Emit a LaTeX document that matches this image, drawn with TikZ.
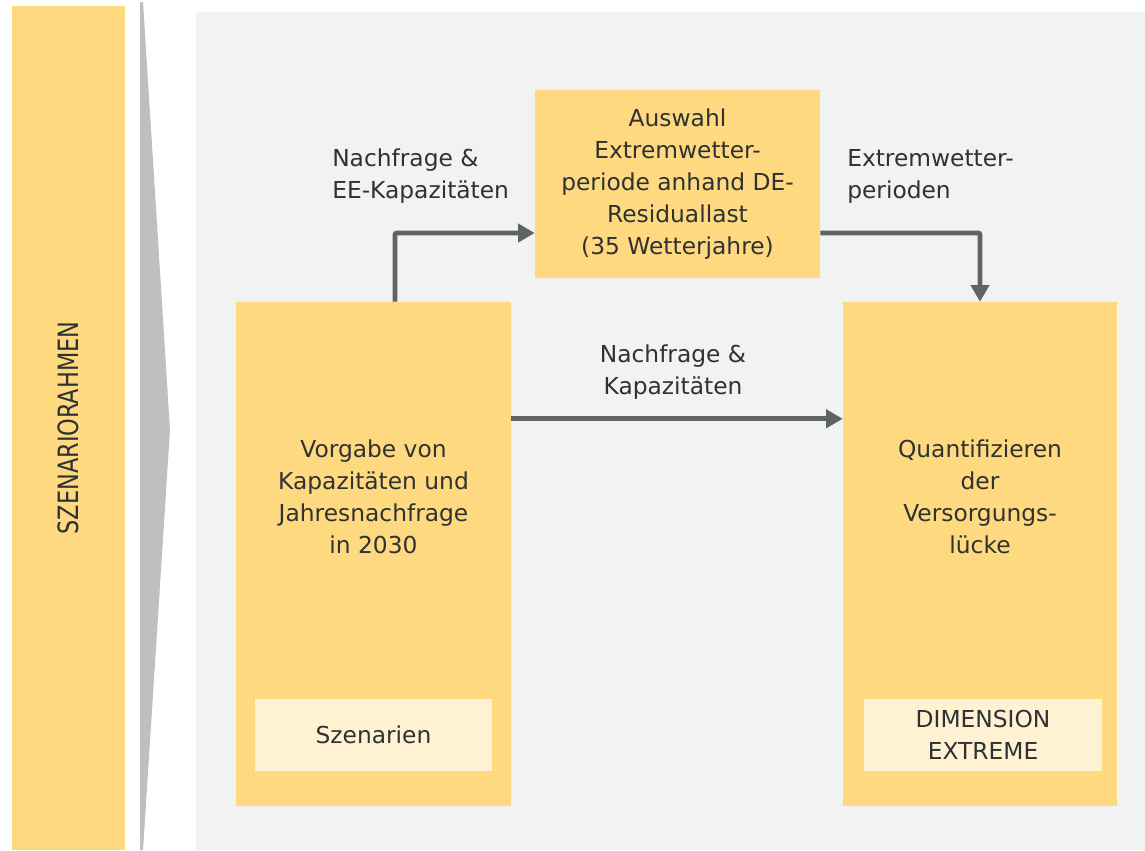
\documentclass[tikz,border=0pt]{standalone}
\usepackage{fontspec}
\setmainfont{DejaVu Sans}
\usepackage{graphicx}
\usetikzlibrary{arrows.meta,calc}
\definecolor{gelb}{HTML}{FFD97F}
\definecolor{hellgelb}{HTML}{FFF2D3}
\definecolor{hgrau}{HTML}{F2F2F2}
\definecolor{keilgrau}{HTML}{BFBFBF}
\definecolor{pfeilgrau}{HTML}{5E6364}
\definecolor{schrift}{HTML}{2E3233}

\begin{document}
\begin{tikzpicture}
    \tikzset{x={(0.75pt,0pt)}, y={(0pt,-0.75pt)}}
    \tikzset{box/.style={fill=gelb, inner sep=0pt, text=schrift, align=center,
                         font=\fontsize{17.5}{24}\selectfont},
             innerbox/.style={box, fill=hellgelb, minimum height=54pt},
             txt/.style={inner sep=0pt, text=schrift, font=\fontsize{17.5}{24}\selectfont},
             flow/.style={draw=pfeilgrau, line width=3.7pt, rounded corners=1.5pt,
                          -{Triangle[length=12.5pt,width=13.5pt]}}}
    \useasboundingbox (0,0) rectangle (1145,850);
    % background and chevron
    \fill[hgrau] (196,12) rectangle (1145,850);
    \fill[keilgrau] (140,2) -- (143,2) -- (170,430) -- (143,850) -- (140,850) -- cycle;
    \node[box, rotate=90, minimum width=633pt, minimum height=84.75pt] (rahmen) at (68.5,428)
        {\scalebox{0.8}[1]{\fontsize{21}{24}\selectfont SZENARIORAHMEN}};
    % boxes
    \node[box, minimum width=213.75pt, minimum height=141pt] (auswahl) at (677.5,184)
        {Auswahl\\Extremwetter-\\periode anhand DE-\\Residuallast\\(35 Wetterjahre)};
    \node[box, minimum width=206.25pt, minimum height=378pt] (vorgabe) at (373.5,554) {};
    \node[box, minimum width=205.5pt, minimum height=378pt] (quant) at (980,554) {};
    \node[txt, align=center] (vorgabetext) at (373.5,497)
        {Vorgabe von\\Kapazitäten und\\Jahresnachfrage\\in 2030};
    \node[txt, align=center] (quanttext) at (980,497)
        {Quantifizieren\\der\\Versorgungs-\\lücke};
    \node[innerbox, minimum width=177.75pt] (szen) at (373.5,735) {Szenarien};
    \node[innerbox, minimum width=178.5pt] (dim) at (983,735) {DIMENSION\\EXTREME};
    % labels
    \node[txt, anchor=west, align=left] (lbla) at (332,176) {Nachfrage \&\\EE-Kapazitäten};
    \node[txt, anchor=west, align=left] (lblb) at (847,176) {Extremwetter-\\perioden};
    \node[txt, align=center] (lblc) at (673,372) {Nachfrage \&\\Kapazitäten};
    % arrows
    \draw[flow] ($(vorgabe.north west)!0.578!(vorgabe.north east)$)
        |- ($(auswahl.south west)!0.24!(auswahl.north west)$);
    \draw[flow] ($(auswahl.south east)!0.24!(auswahl.north east)$) -| (quant.north);
    \draw[flow] ($(vorgabe.north east)!0.232!(vorgabe.south east)$) coordinate (mid)
        -- (mid -| quant.west);
\end{tikzpicture}
\end{document}
